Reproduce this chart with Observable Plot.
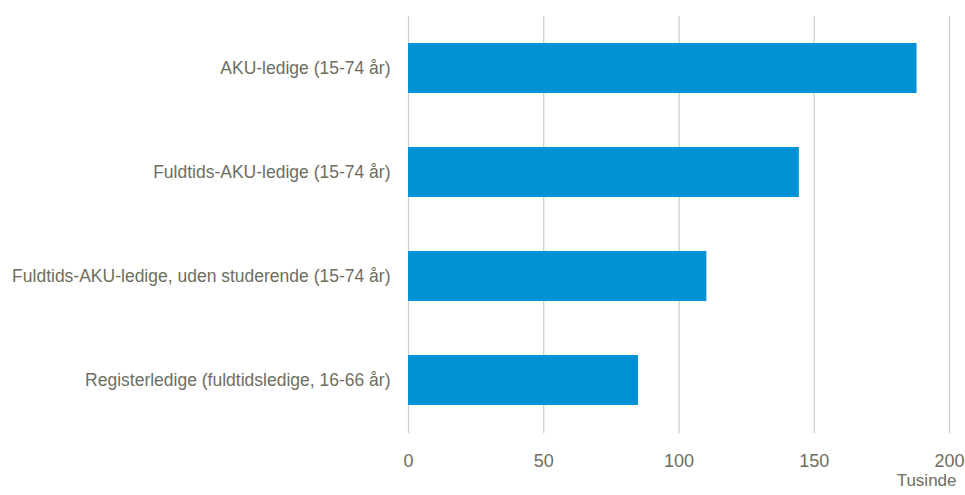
<!DOCTYPE html>
<html>
<head>
<meta charset="utf-8">
<script src="https://cdn.jsdelivr.net/npm/d3@7"></script>
<script src="https://cdn.jsdelivr.net/npm/@observablehq/plot@0.6"></script>
<style>
  html, body { margin: 0; padding: 0; background: #fff; }
  #chart svg { display: block; }
</style>
</head>
<body>
<div id="chart"></div>
<script>
const categories = [
  "AKU-ledige (15-74 år)",
  "Fuldtids-AKU-ledige (15-74 år)",
  "Fuldtids-AKU-ledige, uden studerende (15-74 år)",
  "Registerledige (fuldtidsledige, 16-66 år)"
];
const values = [188, 144.5, 110.3, 85];
const xTicks = [0, 50, 100, 150, 200];
const unitLabel = "Tusinde";

const data = categories.map((c, i) => ({category: c, value: values[i]}));

const font = "'Liberation Sans', Arial, sans-serif";
const textColor = "#6e6e60";

const plot = Plot.plot({
  width: 965,
  height: 495,
  marginLeft: 408,
  marginRight: 16,
  marginTop: 16,
  marginBottom: 62,
  style: {fontFamily: font, fontSize: "17.5px", color: textColor, background: "#fff"},
  x: {domain: [0, 200], ticks: xTicks, label: null},
  y: {domain: categories, paddingInner: 0.517, paddingOuter: 0.254, label: null},
  marks: [
    Plot.gridX(xTicks, {stroke: "#cfcec6", strokeOpacity: 1, strokeWidth: 1.3}),
    Plot.barX(data, {x: "value", y: "category", fill: "#0090d4"}),
    Plot.axisX(xTicks, {tickSize: 0, tickPadding: 21, fontSize: 18, fill: textColor}),
    Plot.axisY({tickSize: 0, tickPadding: 18, fontSize: 17.5, fill: textColor}),
    Plot.text([unitLabel], {frameAnchor: "bottom-right", dx: 7, dy: 52, text: d => d, fontSize: 17, fill: textColor, textAnchor: "end"})
  ]
});
document.getElementById("chart").appendChild(plot);
</script>
</body>
</html>
